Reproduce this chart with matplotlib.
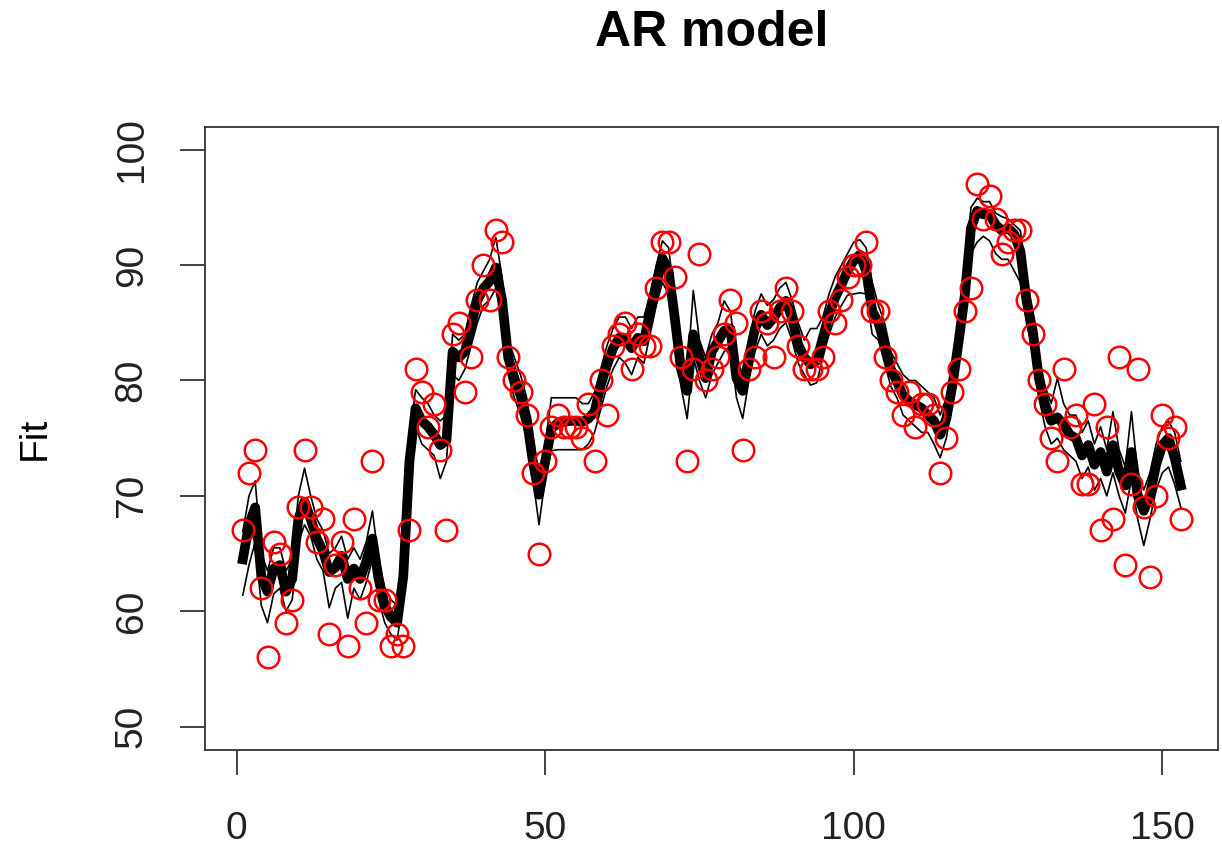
import numpy as np
import matplotlib
matplotlib.use("Agg")
import matplotlib.pyplot as plt

plt.rcParams["font.family"] = ["Liberation Sans", "DejaVu Sans"]

# observed series (red circles)
observed = [67, 72, 74, 62, 56, 66, 65, 59, 61, 69, 74, 69, 66, 68, 58, 64, 66, 57, 68, 62,
            59, 73, 61, 61, 57, 58, 57, 67, 81, 79, 76, 78, 74, 67, 84, 85, 79, 82, 87, 90,
            87, 93, 92, 82, 80, 79, 77, 72, 65, 73, 76, 77, 76, 76, 76, 75, 78, 73, 80, 77,
            83, 84, 85, 81, 84, 83, 83, 88, 92, 92, 89, 82, 73, 81, 91, 80, 81, 82, 84, 87,
            85, 74, 81, 82, 86, 85, 82, 86, 88, 86, 83, 81, 81, 81, 82, 86, 85, 87, 89, 90,
            90, 92, 86, 86, 82, 80, 79, 77, 79, 76, 78, 78, 77, 72, 75, 79, 81, 86, 88, 97,
            94, 96, 94, 91, 92, 93, 93, 87, 84, 80, 78, 75, 73, 81, 76, 77, 71, 71, 78, 67,
            76, 68, 82, 64, 71, 81, 69, 63, 70, 77, 75, 76, 68]

# fitted values (thick line)
fit = [64.5, 67.5, 69.0, 63.0, 61.7, 63.7, 64.0, 61.7, 62.8, 68.0,
       69.5, 68.0, 66.3, 65.2, 63.4, 63.8, 64.8, 62.8, 63.7, 62.8,
       64.3, 66.3, 62.8, 60.5, 59.5, 59.0, 63.0, 73.0, 77.6, 76.5,
       76.0, 75.3, 74.4, 74.8, 82.5, 82.0, 82.5, 84.8, 86.9, 88.0,
       88.6, 89.8, 87.0, 82.0, 80.2, 78.7, 76.7, 73.0, 70.1, 73.0,
       75.8, 76.3, 76.4, 76.5, 76.5, 76.4, 76.7, 77.3, 79.6, 81.3,
       82.8, 83.7, 83.7, 82.8, 83.7, 83.4, 86.0, 88.3, 90.6, 89.5,
       85.4, 81.0, 79.1, 84.0, 82.0, 80.2, 82.5, 83.4, 84.3, 84.5,
       80.2, 79.1, 82.0, 84.5, 85.7, 84.8, 85.4, 86.3, 86.9, 85.4,
       83.1, 82.0, 81.4, 81.7, 83.7, 85.7, 87.2, 88.3, 89.5, 90.4,
       90.9, 89.5, 86.0, 85.0, 83.1, 81.0, 79.9, 78.7, 78.2, 77.9,
       77.6, 77.0, 76.5, 75.3, 76.7, 79.6, 83.4, 87.4, 93.2, 94.7,
       94.4, 94.4, 93.5, 93.0, 93.2, 92.7, 91.2, 86.9, 84.3, 80.2,
       77.9, 76.5, 76.8, 76.2, 75.3, 75.0, 73.5, 74.4, 72.7, 73.8,
       72.1, 74.4, 72.1, 70.9, 73.8, 70.1, 68.7, 70.1, 72.7, 74.4,
       75.0, 73.3, 70.9]

# thin envelope lines
lower = [61.4, 64.0, 66.0, 60.5, 59.0, 61.5, 62.0, 60.0, 61.0, 66.0,
         67.5, 66.5, 64.5, 63.5, 60.3, 62.0, 62.5, 59.4, 62.0, 61.0,
         62.5, 64.5, 61.0, 59.0, 58.0, 57.5, 61.0, 71.0, 76.0, 74.5,
         74.0, 73.5, 71.5, 73.0, 80.5, 80.0, 81.0, 83.0, 85.0, 86.5,
         87.0, 88.0, 85.5, 80.5, 78.5, 77.0, 75.0, 71.5, 67.5, 71.5,
         73.9, 74.0, 74.0, 74.0, 74.0, 74.0, 74.5, 75.5, 77.5, 79.5,
         81.0, 82.0, 81.5, 80.5, 82.0, 81.5, 84.0, 86.5, 88.5, 87.5,
         83.5, 79.5, 76.7, 82.0, 80.0, 78.5, 80.5, 81.5, 82.5, 83.0,
         78.5, 76.7, 80.0, 82.5, 84.0, 83.0, 83.5, 84.5, 85.0, 83.5,
         81.5, 80.5, 79.6, 79.8, 82.0, 84.0, 85.5, 86.5, 87.4, 87.5,
         87.6, 87.5, 84.0, 83.5, 81.5, 79.5, 78.5, 77.0, 76.5, 76.0,
         75.5, 75.5, 74.5, 73.3, 75.0, 78.0, 81.5, 85.5, 91.0, 92.0,
         92.5, 92.1, 91.0, 90.5, 90.5, 89.5, 88.5, 85.0, 82.5, 78.5,
         76.0, 74.5, 75.0, 74.0, 73.5, 73.0, 71.5, 72.5, 70.5, 71.5,
         70.0, 72.0, 70.0, 68.5, 71.5, 68.0, 65.7, 68.0, 70.5, 72.0,
         72.5, 71.0, 69.0]

upper = [66.9, 70.0, 71.3, 65.0, 63.5, 65.5, 65.5, 63.5, 64.5, 70.0,
         72.4, 70.0, 68.0, 67.0, 65.0, 65.5, 66.5, 64.5, 65.5, 64.5,
         66.0, 68.7, 64.5, 62.0, 61.0, 60.5, 65.0, 75.0, 79.2, 78.5,
         78.0, 77.0, 76.5, 77.0, 84.0, 83.5, 84.0, 86.5, 88.5, 89.5,
         90.5, 92.4, 89.0, 83.5, 82.0, 80.5, 78.5, 74.5, 71.5, 74.5,
         78.5, 78.5, 78.5, 78.5, 78.5, 78.0, 78.0, 79.0, 81.0, 83.0,
         84.5, 85.5, 85.5, 84.5, 85.5, 85.5, 87.5, 90.0, 92.1, 91.5,
         87.0, 82.5, 80.5, 87.8, 83.5, 82.0, 84.0, 85.0, 86.9, 86.0,
         82.0, 80.5, 83.5, 86.0, 87.5, 86.5, 87.0, 88.0, 88.5, 87.0,
         85.0, 83.5, 84.5, 84.5, 85.5, 87.5, 89.0, 90.0, 91.0, 92.0,
         92.2, 91.5, 88.5, 86.5, 85.0, 82.5, 81.5, 80.5, 80.0, 80.0,
         79.5, 79.0, 78.5, 77.0, 78.5, 81.5, 85.0, 89.5, 95.0, 95.8,
         95.5, 95.5, 94.5, 94.2, 94.0, 93.5, 93.0, 89.0, 86.0, 82.0,
         79.5, 78.0, 80.2, 78.0, 77.0, 77.0, 75.5, 76.5, 74.5, 76.0,
         74.0, 77.3, 74.0, 72.5, 77.3, 72.0, 70.5, 72.0, 74.5, 76.0,
         76.5, 75.5, 73.0]

x = np.arange(1, len(observed) + 1)

fig = plt.figure(figsize=(12.22, 8.5), dpi=100)
ax = fig.add_axes([0.168, 0.118, 0.829, 0.733])

ax.plot(x, lower, color="black", lw=1.2)
ax.plot(x, upper, color="black", lw=1.2)
ax.plot(x, fit, color="black", lw=7, solid_joinstyle="round")
ax.plot(x, observed, "o", mfc="none", mec="red", ms=15.5, mew=1.8)

ax.set_xlim(-5.08, 159.08)
ax.set_ylim(48, 102)
ax.set_xticks([0, 50, 100, 150])
ax.set_yticks([50, 60, 70, 80, 90, 100])
ax.tick_params(axis="both", length=18, width=1.2, labelsize=28, colors="#222222")
ax.tick_params(axis="x", pad=26)
ax.tick_params(axis="y", pad=22)
for lab in ax.get_yticklabels():
    lab.set_rotation(90)
    lab.set_va("center")
for sp in ax.spines.values():
    sp.set_linewidth(1.3)
    sp.set_color("#333333")

ax.set_ylabel("Fit", fontsize=28, labelpad=44)
ax.set_title("AR model", fontsize=36, fontweight="bold", pad=58)

fig.savefig("out.png", dpi=100)
